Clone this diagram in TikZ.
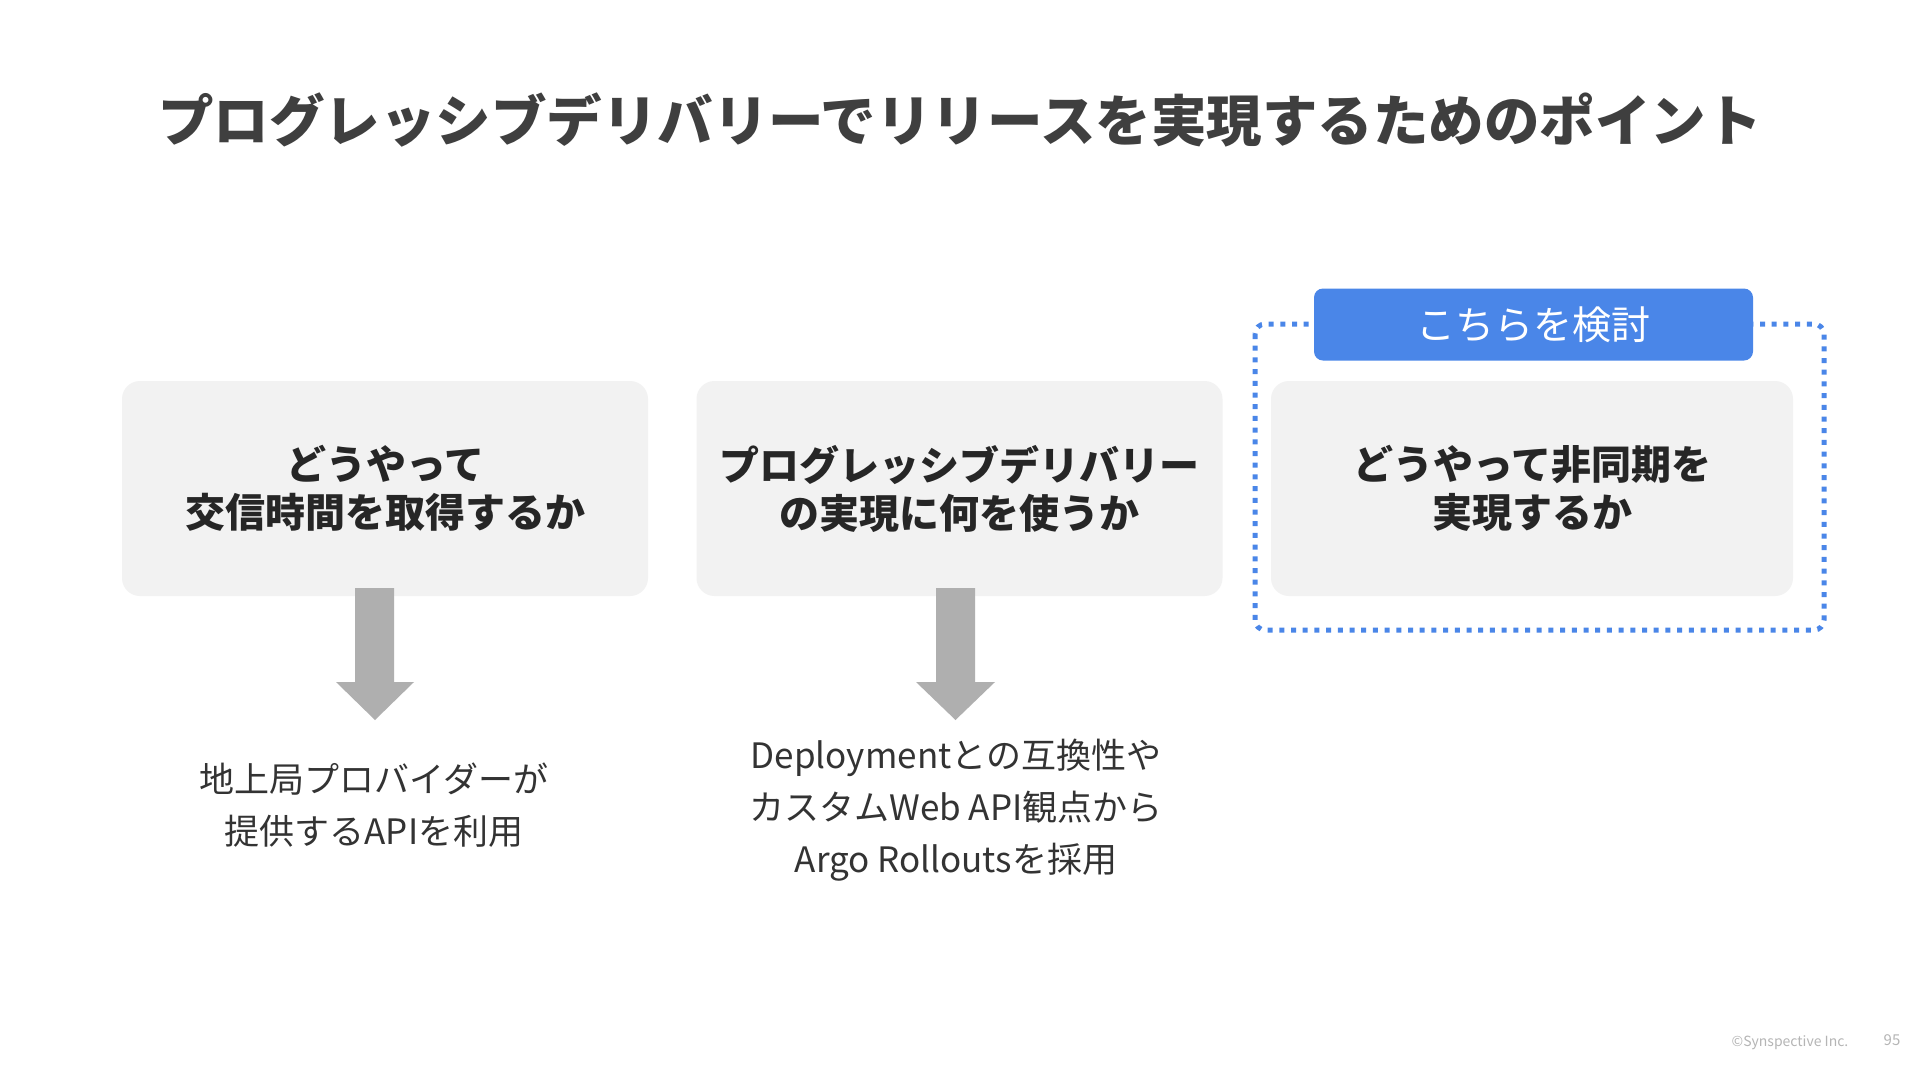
\documentclass[tikz,border=0pt]{standalone}
\usepackage{fontspec}
\setmainfont{Noto Sans CJK JP}
\definecolor{boxgray}{HTML}{F2F2F2}
\definecolor{arrowgray}{HTML}{AFAFAF}
\definecolor{accent}{HTML}{4A86E8}
\definecolor{titlegray}{HTML}{3F3F3F}
\definecolor{textdark}{HTML}{262626}
\definecolor{textmid}{HTML}{333333}
\definecolor{footgray}{HTML}{B5B5B5}
\tikzset{
  qbox/.style={fill=boxgray, rounded corners=18pt, minimum width=526pt, minimum height=215pt,
    align=center, text=textdark, font=\fontsize{40}{48}\selectfont\bfseries, inner sep=0pt},
  answer/.style={align=center, text=textmid, font=\fontsize{35}{52}\selectfont, inner sep=0pt},
  blockarrow/.style={fill=arrowgray, draw=none},
}
\begin{document}
\begin{tikzpicture}[x=1pt,y=-1pt]
\useasboundingbox (0,0) rectangle (1920,1080);
\fill[white] (0,0) rectangle (1920,1080);

\node[text=titlegray, font=\fontsize{55.5}{60}\selectfont\bfseries, inner sep=0pt] (title) at (960,120)
  {プログレッシブデリバリーでリリースを実現するためのポイント};

% boxes
\node[qbox] (b1) at (385,488.5) {どうやって\\交信時間を取得するか};
\node[qbox] (b2) at (959.5,488.5) {プログレッシブデリバリー\\の実現に何を使うか};
\node[qbox, minimum width=522pt] (b3) at (1532,488.5) {どうやって非同期を\\実現するか};

% dotted frame and label
\draw[accent, line width=5pt, dash pattern=on 5pt off 6.7pt, rounded corners=10pt]
  (1255,324) rectangle (1824,630);
\node[fill=accent, rounded corners=9pt, minimum width=439pt, minimum height=72pt, inner sep=0pt,
  text=white, font=\fontsize{39}{44}\selectfont] (lbl) at (1533.5,324.5) {こちらを検討};

% answers
\node[answer] (a1) at (374,805) {地上局プロバイダーが\\提供するAPIを利用};
\node[answer] (a2) at (956,810) {Deploymentとの互換性や\\カスタムWeb API観点から\\Argo Rolloutsを採用};

% block arrows
\fill[blockarrow] (355,588) -- (394,588) -- (394,682) -- (414,682) -- (375,720) -- (336,682) -- (355,682) -- cycle;
\fill[blockarrow] (936,588) -- (975,588) -- (975,682) -- (995,682) -- (955.5,720) -- (916,682) -- (936,682) -- cycle;

% footer
\node[text=footgray, font=\fontsize{14}{16}\selectfont, inner sep=0pt] (copy) at (1790,1043) {©Synspective Inc.};
\node[text=footgray, font=\fontsize{15}{17}\selectfont, inner sep=0pt] (page) at (1892,1040) {95};
\end{tikzpicture}
\end{document}
